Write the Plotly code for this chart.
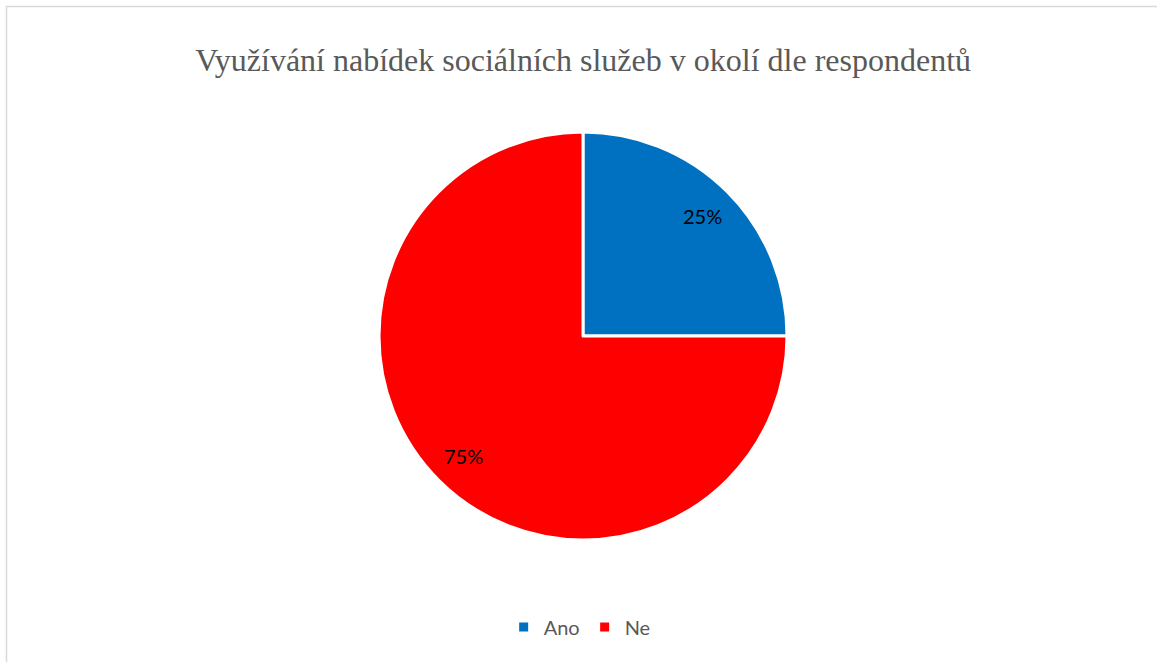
import math
import plotly.graph_objects as go

# Survey answers and their shares (percent)
labels = ["Ano", "Ne"]
values = [25, 75]
colors = ["#0070C0", "#FF0000"]

title_text = "Využívání nabídek sociálních služeb v okolí dle respondentů"

W, H = 1157, 662

# Pie placement in pixels (centre and radius) -> paper domain
CX, CY, R = 583, 336, 204
dom_x = [(CX - R) / W, (CX + R) / W]
dom_y = [(H - CY - R) / H, (H - CY + R) / H]

fig = go.Figure(
    go.Pie(
        labels=labels,
        values=values,
        sort=False,
        direction="clockwise",
        rotation=0,
        marker=dict(colors=colors, line=dict(color="white", width=3)),
        textinfo="none",
        hoverinfo="label+percent",
        domain=dict(x=dom_x, y=dom_y),
    )
)

# Percentage labels placed toward the outer edge of each slice
total = sum(values)
annotations = []
cum = 0
for v in values:
    theta = 2 * math.pi * (cum + v / 2) / total
    cum += v
    r = 0.83 * R
    px = CX + r * math.sin(theta)
    py = CY - r * math.cos(theta)
    annotations.append(
        dict(
            x=px / W,
            y=1 - py / H,
            xref="paper",
            yref="paper",
            text=f"{v / total:.0%}",
            showarrow=False,
            xanchor="center",
            yanchor="middle",
            font=dict(family="Lato", size=20, color="black"),
        )
    )

fig.update_layout(
    width=W,
    height=H,
    margin=dict(l=0, r=0, t=0, b=0),
    paper_bgcolor="white",
    plot_bgcolor="white",
    title=dict(
        text=title_text,
        x=0.504,
        xanchor="center",
        y=1 - 60 / H,
        yanchor="middle",
        font=dict(family="Liberation Serif", size=32, color="#595959"),
    ),
    showlegend=True,
    legend=dict(
        orientation="h",
        x=0.501,
        xanchor="center",
        y=1 - 627 / H,
        yanchor="middle",
        font=dict(family="Lato", size=20, color="#595959"),
        itemwidth=30,
    ),
    annotations=annotations,
    shapes=[
        dict(
            type="rect",
            xref="paper",
            yref="paper",
            x0=6.5 / W,
            x1=1.01,
            y0=-0.01,
            y1=1 - 6.5 / H,
            line=dict(color="#D9D9D9", width=1.5),
            fillcolor="rgba(0,0,0,0)",
            layer="below",
        )
    ],
)

fig.write_html("out.html")
